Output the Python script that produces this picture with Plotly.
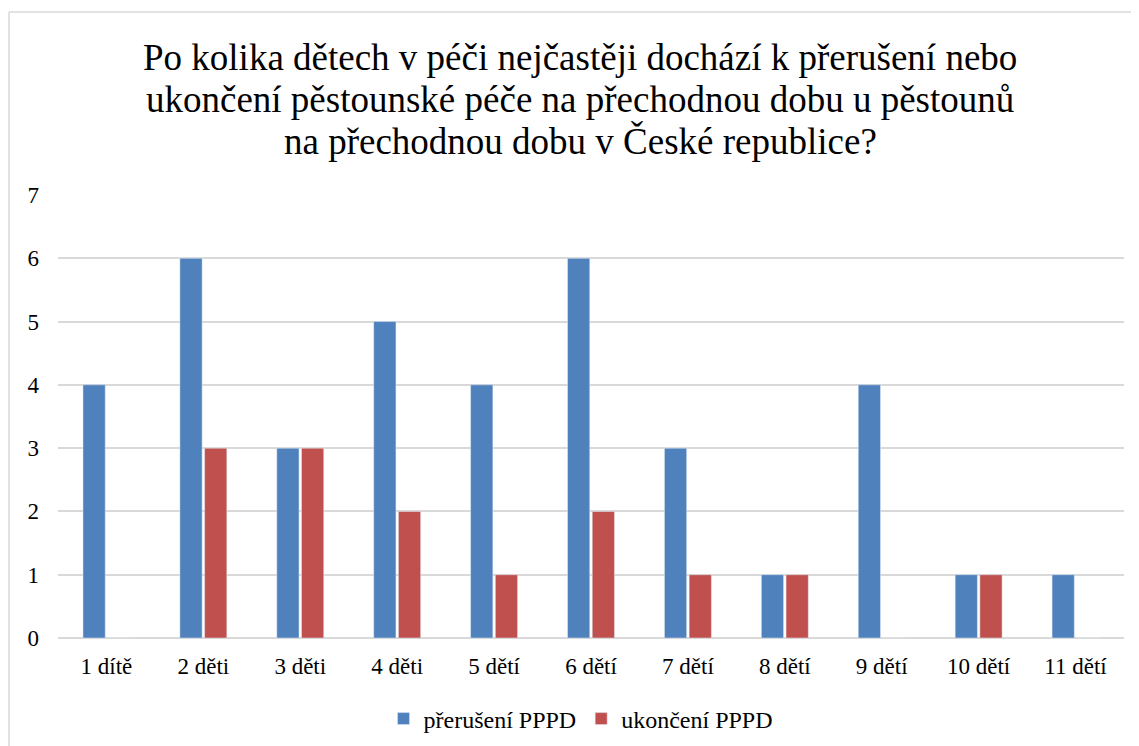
import plotly.graph_objects as go

categories = ["1 dítě", "2 děti", "3 děti", "4 děti", "5 dětí", "6 dětí",
              "7 dětí", "8 dětí", "9 dětí", "10 dětí", "11 dětí"]
preruseni = [4, 6, 3, 5, 4, 6, 3, 1, 4, 1, 1]
ukonceni = [0, 3, 3, 2, 1, 2, 1, 1, 0, 1, 0]

title_lines = ["Po kolika dětech v péči nejčastěji dochází k přerušení nebo",
               "ukončení pěstounské péče na přechodnou dobu u pěstounů",
               "na přechodnou dobu v České republice?"]

font = "Liberation Serif"

fig = go.Figure()
fig.add_trace(go.Bar(x=categories, y=preruseni, name="přerušení PPPD",
                     marker_color="#4F81BD"))
fig.add_trace(go.Bar(x=categories, y=ukonceni, name="ukončení PPPD",
                     marker_color="#C0504D"))

# stránka má okraj 8 px, proto je obrázek o 8 px menší
W, H = 1131, 738
ml, mr, mt, mb = 50, 15, 187, 108
pw, ph = W - ml - mr, H - mt - mb

def px_x(x):
    return (x - ml) / pw

def px_y(y):
    return 1 + (mt - y) / ph

# rámeček grafu (jako v Excelu)
fig.add_shape(type="line", xref="paper", yref="paper", x0=px_x(1), x1=px_x(1),
              y0=-1, y1=px_y(4), line=dict(color="#D9D9D9", width=1.5))
fig.add_shape(type="line", xref="paper", yref="paper", x0=px_x(1), x1=2,
              y0=px_y(4), y1=px_y(4), line=dict(color="#D9D9D9", width=1.5))

# nadpis po řádcích (Excel má menší řádkování než plotly)
for i, line in enumerate(title_lines):
    fig.add_annotation(text=line, xref="paper", yref="paper",
                       x=px_x(572), y=px_y(49 + 42 * i), xanchor="center",
                       yanchor="middle", showarrow=False,
                       font=dict(size=37, family=font, color="black"))

fig.update_layout(
    width=W, height=H,
    margin=dict(l=ml, r=mr, t=mt, b=mb, autoexpand=False),
    paper_bgcolor="white", plot_bgcolor="white",
    font=dict(family=font, color="black"),
    barmode="group", bargap=0.49, bargroupgap=0.1,
    legend=dict(orientation="h", x=px_x(573), xanchor="center", y=px_y(711),
                yanchor="middle", font=dict(size=24, family=font)),
    showlegend=True,
)
fig.update_yaxes(range=[0, 7], dtick=1, showgrid=True, gridcolor="#D9D9D9",
                 gridwidth=1.5, zeroline=True, zerolinecolor="#D9D9D9",
                 zerolinewidth=1.5, showline=False, ticks="", automargin=False,
                 tickfont=dict(size=23, family=font), ticklabelstandoff=18)
fig.update_xaxes(showgrid=False, showline=False, ticks="", automargin=False,
                 tickfont=dict(size=23, family=font), ticklabelstandoff=12)

fig.write_html("out.html")
